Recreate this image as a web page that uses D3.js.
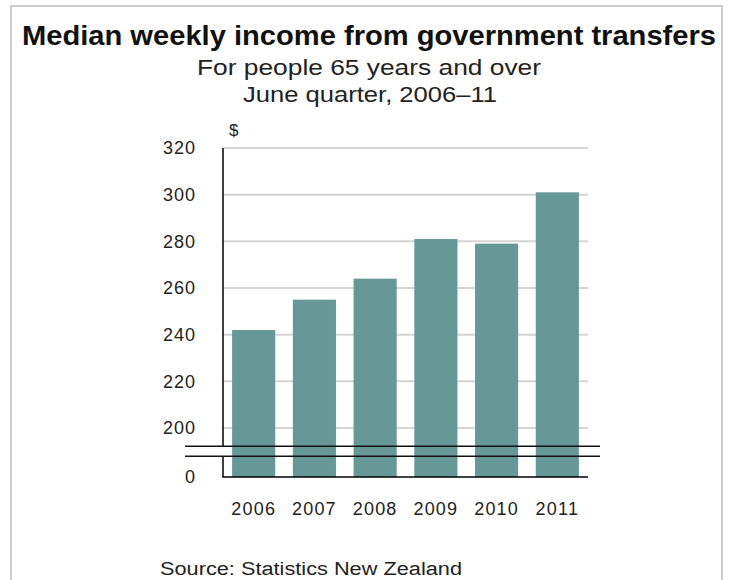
<!DOCTYPE html>
<html>
<head>
<meta charset="utf-8">
<script src="https://cdn.jsdelivr.net/npm/d3@7"></script>
<style>
  html, body { margin: 0; padding: 0; background: #fff; }
  svg { display: block; font-family: "Liberation Sans", Arial, sans-serif; }
</style>
</head>
<body>
<svg id="chart" width="729" height="580"></svg>
<script>
const years = ["2006", "2007", "2008", "2009", "2010", "2011"];
const values = [242, 255, 264, 281, 279, 301];
const tickValues = [0, 200, 220, 240, 260, 280, 300, 320];
const gridValues = [200, 220, 240, 260, 280, 300, 320];
const title = "Median weekly income from government transfers";
const subtitle1 = "For people 65 years and over";
const subtitle2 = "June quarter, 2006\u201311";
const unitLabel = "$";
const sourceText = "Source: Statistics New Zealand";

const svg = d3.select("#chart");

// frame
svg.append("rect")
  .attr("x", 11).attr("y", 6).attr("width", 711).attr("height", 600)
  .attr("fill", "#fff").attr("stroke", "#cccccc").attr("stroke-width", 2);

const left = 223, right = 588;
const x = d3.scaleBand().domain(years).range([left, right]).paddingInner(0.29).paddingOuter(0.15);
// broken axis: piecewise linear scale
const y = d3.scaleLinear().domain([0, 190, 320]).range([477, 451.33, 148]);

// gridlines
svg.append("g").selectAll("line").data(gridValues).join("line")
  .attr("x1", left).attr("x2", right)
  .attr("y1", d => y(d)).attr("y2", d => y(d))
  .attr("stroke", "#d4d4d4").attr("stroke-width", 2);

// bars
svg.append("g").selectAll("rect").data(values).join("rect")
  .attr("x", (d, i) => x(years[i]))
  .attr("width", x.bandwidth())
  .attr("y", d => y(d))
  .attr("height", d => y(0) - y(d))
  .attr("fill", "#659896");

const b1 = y(190) - 5, b2 = y(190) + 5;

// vertical axis line (broken)
svg.append("line").attr("x1", left).attr("x2", left).attr("y1", y(320)).attr("y2", b1)
  .attr("stroke", "#000").attr("stroke-width", 1.5);
svg.append("line").attr("x1", left).attr("x2", left).attr("y1", b2).attr("y2", y(0))
  .attr("stroke", "#000").attr("stroke-width", 1.5);
// baseline
svg.append("line").attr("x1", left - 0.75).attr("x2", right).attr("y1", y(0)).attr("y2", y(0))
  .attr("stroke", "#000").attr("stroke-width", 1.5);
// break lines
[b1, b2].forEach(by => {
  svg.append("line").attr("x1", 185).attr("x2", 600).attr("y1", by).attr("y2", by)
    .attr("stroke", "#111").attr("stroke-width", 1.5);
});

// y axis labels
const yAxis = d3.axisLeft(y).tickValues(tickValues).tickSize(0).tickPadding(0).tickFormat(d3.format("d"));
const gy = svg.append("g").attr("transform", `translate(196,0)`).call(yAxis);
gy.select(".domain").remove();
gy.selectAll("text").attr("font-size", 18).attr("fill", "#222")
  .attr("font-family", "Liberation Sans, Arial, sans-serif")
  .style("letter-spacing", "1px");

// x axis labels
const xAxis = d3.axisBottom(x).tickSize(0).tickPadding(0);
const gx = svg.append("g").attr("transform", `translate(0,502)`).call(xAxis);
gx.select(".domain").remove();
gx.selectAll("text").attr("font-size", 18).attr("fill", "#222")
  .attr("font-family", "Liberation Sans, Arial, sans-serif")
  .style("letter-spacing", "1.2px");

// unit
svg.append("text").attr("x", 229).attr("y", 136).attr("font-size", 17).attr("fill", "#222").text(unitLabel);

// titles
svg.append("text").attr("x", 369).attr("y", 45).attr("text-anchor", "middle")
  .attr("font-size", 28).attr("font-weight", "bold").attr("fill", "#111")
  .attr("textLength", 694).attr("lengthAdjust", "spacingAndGlyphs").text(title);
svg.append("text").attr("x", 369).attr("y", 75).attr("text-anchor", "middle")
  .attr("font-size", 22).attr("fill", "#222")
  .attr("textLength", 344).attr("lengthAdjust", "spacingAndGlyphs").text(subtitle1);
svg.append("text").attr("x", 370).attr("y", 102).attr("text-anchor", "middle")
  .attr("font-size", 22).attr("fill", "#222")
  .attr("textLength", 254).attr("lengthAdjust", "spacingAndGlyphs").text(subtitle2);

// source
svg.append("text").attr("x", 160).attr("y", 575)
  .attr("font-size", 18).attr("fill", "#222")
  .attr("textLength", 302).attr("lengthAdjust", "spacingAndGlyphs").text(sourceText);
</script>
</body>
</html>
